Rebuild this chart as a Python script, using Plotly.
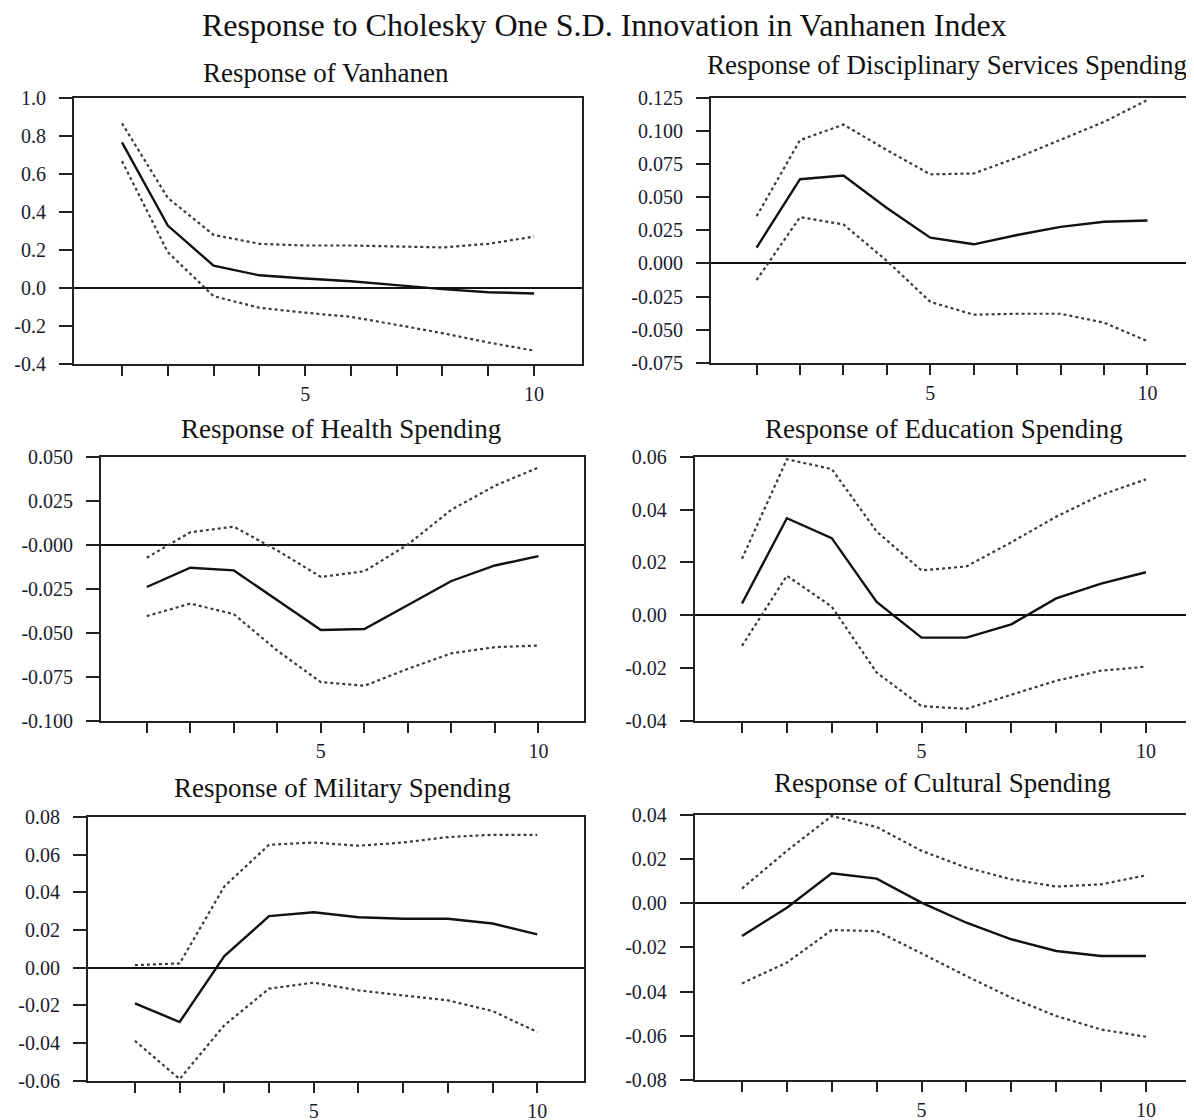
import plotly.graph_objects as go

periods = [1, 2, 3, 4, 5, 6, 7, 8, 9, 10]

# Response of Vanhanen
van_mid = [0.767, 0.328, 0.117, 0.066, 0.049, 0.035, 0.014, -0.007, -0.023, -0.030]
van_up = [0.867, 0.474, 0.279, 0.232, 0.223, 0.223, 0.218, 0.213, 0.232, 0.270]
van_lo = [0.668, 0.188, -0.044, -0.105, -0.131, -0.153, -0.195, -0.239, -0.288, -0.331]

# Response of Disciplinary Services Spending
dis_mid = [0.012, 0.0637, 0.0665, 0.042, 0.0195, 0.0145, 0.0215, 0.0277, 0.0315, 0.0325]
dis_up = [0.0357, 0.0932, 0.105, 0.0857, 0.0674, 0.068, 0.080, 0.0932, 0.107, 0.1236]
dis_lo = [-0.0125, 0.035, 0.0295, 0.002, -0.029, -0.0387, -0.038, -0.038, -0.0447, -0.0587]

# Response of Health Spending
hea_mid = [-0.0239, -0.013, -0.0145, -0.0314, -0.0483, -0.0477, -0.0342, -0.0205, -0.0117, -0.0064]
hea_up = [-0.0073, 0.0071, 0.0103, -0.0032, -0.0182, -0.015, 0.0002, 0.0199, 0.0335, 0.0438]
hea_lo = [-0.0404, -0.0333, -0.0393, -0.060, -0.0778, -0.0799, -0.0703, -0.0615, -0.058, -0.0571]

# Response of Education Spending
edu_mid = [0.0045, 0.0367, 0.0292, 0.0051, -0.0084, -0.0084, -0.0034, 0.0064, 0.012, 0.0163]
edu_up = [0.0214, 0.059, 0.0553, 0.0317, 0.017, 0.0185, 0.0276, 0.0373, 0.0455, 0.0514]
edu_lo = [-0.0115, 0.015, 0.0033, -0.0216, -0.0343, -0.0353, -0.030, -0.0247, -0.0209, -0.0194]

# Response of Military Spending
mil_mid = [-0.0189, -0.0288, 0.0062, 0.0274, 0.0295, 0.0268, 0.026, 0.026, 0.0235, 0.0177]
mil_up = [0.0014, 0.0023, 0.0432, 0.0653, 0.0665, 0.0648, 0.0665, 0.0694, 0.0706, 0.0706]
mil_lo = [-0.0388, -0.0591, -0.0305, -0.0111, -0.0079, -0.012, -0.0147, -0.0173, -0.023, -0.0341]

# Response of Cultural Spending
cul_mid = [-0.0148, -0.002, 0.0136, 0.0112, 0.0003, -0.0088, -0.0163, -0.0216, -0.0239, -0.0239]
cul_up = [0.0067, 0.0238, 0.0396, 0.0346, 0.0238, 0.0162, 0.0109, 0.0076, 0.0086, 0.0127]
cul_lo = [-0.0363, -0.0269, -0.0121, -0.0126, -0.0227, -0.033, -0.0428, -0.0511, -0.0572, -0.0605]

titles = ["Response of Vanhanen", "Response of Disciplinary Services Spending",
          "Response of Health Spending", "Response of Education Spending",
          "Response of Military Spending", "Response of Cultural Spending"]

ytick_vals = [
    [1.0, 0.8, 0.6, 0.4, 0.2, 0.0, -0.2, -0.4],
    [0.125, 0.100, 0.075, 0.050, 0.025, 0.0, -0.025, -0.050, -0.075],
    [0.050, 0.025, 0.0, -0.025, -0.050, -0.075, -0.100],
    [0.06, 0.04, 0.02, 0.0, -0.02, -0.04],
    [0.08, 0.06, 0.04, 0.02, 0.0, -0.02, -0.04, -0.06],
    [0.04, 0.02, 0.0, -0.02, -0.04, -0.06, -0.08],
]
ytick_text = [
    ["1.0", "0.8", "0.6", "0.4", "0.2", "0.0", "-0.2", "-0.4"],
    ["0.125", "0.100", "0.075", "0.050", "0.025", "0.000", "-0.025", "-0.050", "-0.075"],
    ["0.050", "0.025", "-0.000", "-0.025", "-0.050", "-0.075", "-0.100"],
    ["0.06", "0.04", "0.02", "0.00", "-0.02", "-0.04"],
    ["0.08", "0.06", "0.04", "0.02", "0.00", "-0.02", "-0.04", "-0.06"],
    ["0.04", "0.02", "0.00", "-0.02", "-0.04", "-0.06", "-0.08"],
]
xtick_text = ["", "", "", "", "5", "", "", "", "", "10"]

series = [
    (van_mid, van_up, van_lo),
    (dis_mid, dis_up, dis_lo),
    (hea_mid, hea_up, hea_lo),
    (edu_mid, edu_up, edu_lo),
    (mil_mid, mil_up, mil_lo),
    (cul_mid, cul_up, cul_lo),
]

W, H = 1194, 1120
# observed page placement of the paper area (offset, size)
OX, OY, PW, PH = 7.5, 17.8, 1186.4, 1099.5


def fx(px):
    return (px - OX) / PW


def fy(py):
    return 1 - (py - OY) / PH


# plot boxes in pixels: left, right, top, bottom
boxes = [
    (73, 578, 97, 363),
    (706, 1185, 97, 362),
    (100, 580, 456, 721),
    (690, 1185, 456, 721),
    (87, 580, 817, 1081),
    (690, 1185, 815, 1080),
]
sub_pos = [(323, 72), (941, 64), (338, 428), (938, 428), (340, 788), (936, 783)]

FONT = "Liberation Serif"
TICKCOL = "#1a1a2e"
fig = go.Figure()
layout = {}
annotations = []

for i, ((mid, up, lo), box) in enumerate(zip(series, boxes)):
    n = "" if i == 0 else str(i + 1)
    xa, ya = "x" + n, "y" + n
    for vals, dash, col in ((up, "dot", "#3a3a3a"), (lo, "dot", "#3a3a3a"), (mid, "solid", "#111111")):
        fig.add_trace(go.Scatter(x=periods, y=vals, mode="lines", xaxis=xa, yaxis=ya,
                                 line=dict(color=col, width=2.2 if dash == "dot" else 2.4, dash=dash),
                                 showlegend=False, hoverinfo="skip"))
    l, r, t, b = box
    yv = ytick_vals[i]
    layout["xaxis" + n] = dict(
        domain=[fx(l), fx(r)], anchor=ya, range=[-0.05, 11.05],
        tickmode="array", tickvals=periods, ticktext=xtick_text,
        ticks="outside", ticklen=10, tickwidth=2, tickcolor="#222",
        showline=True, linecolor="#222", linewidth=2, mirror=True,
        showgrid=False, zeroline=False, ticklabelstandoff=1,
        tickfont=dict(family=FONT, size=20, color=TICKCOL),
    )
    layout["yaxis" + n] = dict(
        domain=[fy(b), fy(t)], anchor=xa, range=[min(yv), max(yv)],
        tickmode="array", tickvals=yv, ticktext=ytick_text[i],
        ticks="outside", ticklen=13, tickwidth=2, tickcolor="#222",
        showline=True, linecolor="#222", linewidth=2, mirror=True,
        showgrid=False, zeroline=True, zerolinecolor="#111", zerolinewidth=1.6,
        ticklabelstandoff=9,
        tickfont=dict(family=FONT, size=20, color=TICKCOL),
    )
    sx, sy = sub_pos[i]
    annotations.append(dict(text=titles[i], x=fx(sx), y=fy(sy), xref="paper", yref="paper",
                            xanchor="center", yanchor="middle", showarrow=False,
                            font=dict(family=FONT, size=27, color="#111")))

annotations.append(dict(text="Response to Cholesky One S.D. Innovation in Vanhanen Index",
                        x=fx(600), y=fy(24), xref="paper", yref="paper",
                        xanchor="center", yanchor="middle", showarrow=False,
                        font=dict(family=FONT, size=32, color="#111")))

fig.update_layout(width=W, height=H, margin=dict(l=0, r=0, t=0, b=0),
                  paper_bgcolor="white", plot_bgcolor="white",
                  annotations=annotations, **layout)

fig.write_html("out.html")
